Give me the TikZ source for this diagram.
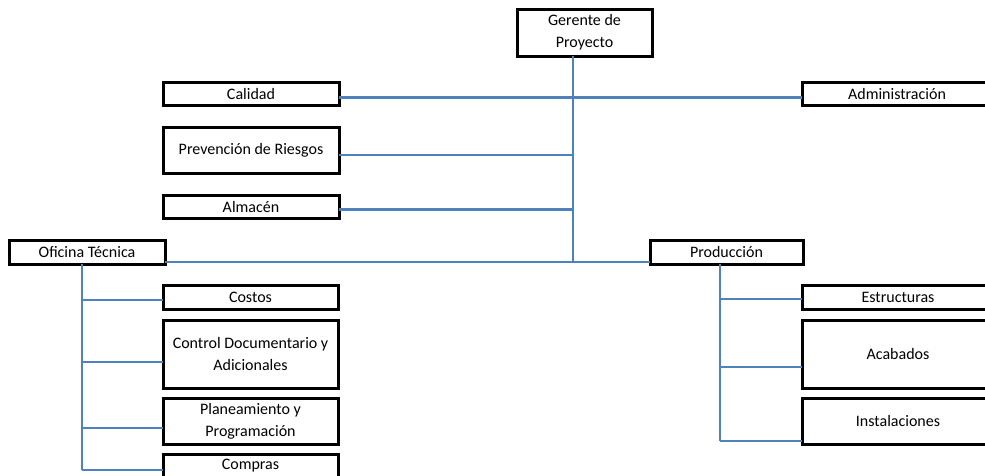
\documentclass[tikz,border=0pt]{standalone}
\usepackage{fontspec}
\setmainfont{Carlito}
\usepackage{xcolor}
\usetikzlibrary{positioning}
\definecolor{azul}{RGB}{79,129,189}

\tikzset{
  caja/.style={draw=black, line width=3pt, fill=white, inner sep=0pt, outer sep=0pt,
    align=center, font=\fontsize{16}{22}\selectfont, minimum height=23pt},
  linea/.style={draw=azul, line width=2.4pt}
}

\begin{document}
\begin{tikzpicture}[x=1pt, y=-1pt]
        \path[use as bounding box, clip] (0,0) rectangle (985,475);

        % Nodo superior
        \node[caja, minimum width=135pt, minimum height=47pt] (gerente) at (584.5,32.5) {Gerente de\\Proyecto};

        % Nodos de apoyo
        \node[caja, minimum width=176pt] (calidad) at (251,93.5) {Calidad};
        \node[caja, minimum width=176pt, minimum height=46pt] (prevencion) at (251,150) {Prevención de Riesgos};
        \node[caja, minimum width=176pt] (almacen) at (251,206.5) {Almacén};
        \node[caja, minimum width=190pt] (admin) at (897,93.5) {Administración};

        % Nodos de area
        \node[caja, minimum width=156pt, minimum height=24pt] (oficina) at (87,252) {Oficina Técnica};
        \node[caja, minimum width=153pt, minimum height=24pt] (produccion) at (726.5,252) {Producción};

        % Oficina Tecnica
        \node[caja, minimum width=175pt, minimum height=24pt] (costos) at (250.5,297) {Costos};
        \node[caja, minimum width=175pt, minimum height=68pt] (control) at (250.5,354) {Control Documentario y\\Adicionales};
        \node[caja, minimum width=175pt, minimum height=46pt] (planeamiento) at (250.5,421) {Planeamiento y\\Programación};
        \node[caja, minimum width=175pt, minimum height=24pt] (compras) at (250.5,466) {Compras};

        % Produccion
        \node[caja, minimum width=192pt, minimum height=24pt] (estructuras) at (898,297) {Estructuras};
        \node[caja, minimum width=192pt, minimum height=68pt] (acabados) at (898,354) {Acabados};
        \node[caja, minimum width=192pt, minimum height=46pt] (instalaciones) at (898,421) {Instalaciones};

        % Conexiones
        \coordinate (tronco) at (573,262);
        \draw[linea] (gerente.south -| tronco) -- (tronco);
        \draw[linea] ([yshift=-4pt]calidad.east) -- ([yshift=-4pt]admin.west);
        \draw[linea] ([yshift=-5pt]prevencion.east) -- ([yshift=-5pt]prevencion.east -| tronco);
        \draw[linea] ([yshift=-3pt]almacen.east) -- ([yshift=-3pt]almacen.east -| tronco);
        \draw[linea] (oficina.east |- tronco) -- (produccion.west |- tronco);

        \coordinate (ofi) at (82,264);
        \draw[linea] (ofi) -- ([yshift=-4pt]compras.west -| ofi);
        \draw[linea] ([yshift=-3pt]costos.west -| ofi) -- ([yshift=-3pt]costos.west);
        \draw[linea] ([yshift=-8pt]control.west -| ofi) -- ([yshift=-8pt]control.west);
        \draw[linea] ([yshift=-7pt]planeamiento.west -| ofi) -- ([yshift=-7pt]planeamiento.west);
        \draw[linea] ([yshift=-4pt]compras.west -| ofi) -- ([yshift=-4pt]compras.west);

        \coordinate (pro) at (720,264);
        \draw[linea] (pro) -- ([yshift=-20pt]instalaciones.west -| pro);
        \draw[linea] ([yshift=-2pt]estructuras.west -| pro) -- ([yshift=-2pt]estructuras.west);
        \draw[linea] ([yshift=-13pt]acabados.west -| pro) -- ([yshift=-13pt]acabados.west);
        \draw[linea] ([yshift=-20pt]instalaciones.west -| pro) -- ([yshift=-20pt]instalaciones.west);
    \end{tikzpicture}
\end{document}
